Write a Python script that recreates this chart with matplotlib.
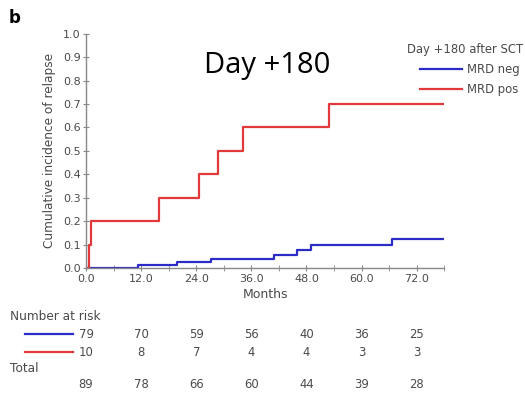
import matplotlib.pyplot as plt
from matplotlib.transforms import blended_transform_factory

# step curves (months, cumulative incidence)
neg_t = [0, 11.4, 19.8, 27.2, 41.0, 45.9, 49.1, 66.7, 78.2]
neg_y = [0, 0.012, 0.025, 0.04, 0.055, 0.075, 0.10, 0.125, 0.125]
pos_t = [0, 0.6, 1.1, 15.9, 24.7, 28.7, 34.1, 52.9, 78.7]
pos_y = [0, 0.1, 0.2, 0.3, 0.4, 0.5, 0.6, 0.7, 0.7]

risk_times = [0, 12, 24, 36, 48, 60, 72]
risk_neg = [79, 70, 59, 56, 40, 36, 25]
risk_pos = [10, 8, 7, 4, 4, 3, 3]
risk_total = [89, 78, 66, 60, 44, 39, 28]

blue = '#2b2bc8'
red = '#e23a3a'
grey = '#4a4a4a'

W, H = 525, 393

def fx(px):
    return px / W

def fy(py):
    return 1 - py / H

fig = plt.figure(figsize=(5.25, 3.93), dpi=100)
ax = fig.add_axes([0.164, 0.318, 0.682, 0.596])

ax.step(neg_t, neg_y, where='post', color=blue, lw=1.6)
ax.step(pos_t, pos_y, where='post', color=red, lw=1.6)

ax.set_xlim(0, 78)
ax.set_ylim(0, 1.0)
ax.set_xticks(risk_times)
ax.set_xticklabels(['%.1f' % t for t in risk_times])
ax.set_xticks(range(0, 79, 6), minor=True)
ax.set_yticks([i / 10 for i in range(11)])
ax.set_yticklabels(['%.1f' % (i / 10) for i in range(11)])
for s in ['top', 'right']:
    ax.spines[s].set_visible(False)
for s in ['left', 'bottom']:
    ax.spines[s].set_color('#888888')
    ax.spines[s].set_linewidth(1.0)
ax.tick_params(which='both', direction='inout', length=4, color='#888888',
               labelsize=8, labelcolor=grey, pad=2)
ax.set_xlabel('Months', fontsize=9, color=grey, labelpad=3)
ax.set_ylabel('Cumulative incidence of relapse', fontsize=8.7, color=grey, labelpad=5)

# legend, drawn by hand so it can run off the right edge like the original
fig.text(fx(407), fy(49), 'Day +180 after SCT', fontsize=8.4, color=grey, va='center')
for col, lab, yp in [(blue, 'MRD neg', 69), (red, 'MRD pos', 89)]:
    fig.add_artist(plt.Line2D([fx(420), fx(462)], [fy(yp), fy(yp)], color=col, lw=1.6))
    fig.text(fx(467), fy(yp), lab, fontsize=8.4, color=grey, va='center')

fig.text(0.509, fy(73), 'Day +180', fontsize=21, family='Open Sans', ha='center', va='baseline')
fig.text(fx(9), fy(18), 'b', fontsize=12, fontweight='bold', ha='left', va='center')

# number at risk table
tr = blended_transform_factory(ax.transData, fig.transFigure)
fig.text(fx(10), fy(316), 'Number at risk', fontsize=8.7, color=grey, va='center')
fig.text(fx(10), fy(369), 'Total', fontsize=8.7, color=grey, va='center')
for row, col, yp in [(risk_neg, blue, 334), (risk_pos, red, 352)]:
    fig.add_artist(plt.Line2D([fx(25), fx(73)], [fy(yp), fy(yp)], color=col, lw=1.6))
    for t, v in zip(risk_times, row):
        fig.text(t, fy(yp), str(v), transform=tr, fontsize=8.4, color=grey, ha='center', va='center')
for t, v in zip(risk_times, risk_total):
    fig.text(t, fy(385), str(v), transform=tr, fontsize=8.4, color=grey, ha='center', va='center')

fig.savefig('out.png', dpi=100)
